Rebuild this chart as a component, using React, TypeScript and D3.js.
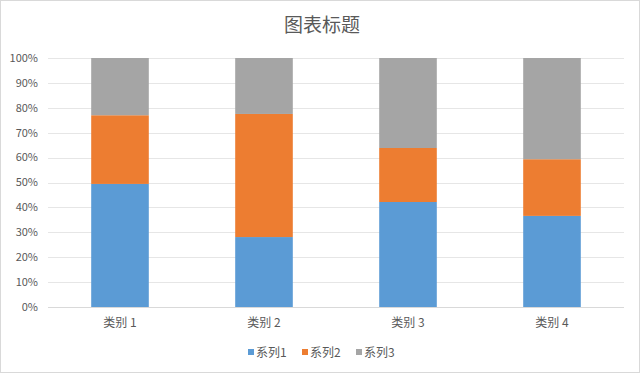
import React, { useEffect, useRef } from 'react';
import * as d3 from 'd3';

const categories = ['类别 1', '类别 2', '类别 3', '类别 4'];
const seriesNames = ['系列1', '系列2', '系列3'];
const series1 = [4.3, 2.5, 3.5, 4.5];
const series2 = [2.4, 4.4, 1.8, 2.8];
const series3 = [2, 2, 3, 5];
const colors = ['#5b9bd5', '#ed7d31', '#a5a5a5'];
const yTicks = [0, 0.1, 0.2, 0.3, 0.4, 0.5, 0.6, 0.7, 0.8, 0.9, 1];

const width = 640;
const height = 373;
const margin = { top: 58, right: 16, bottom: 66, left: 48 };
const font = '"Noto Sans CJK SC", "Noto Sans", sans-serif';

export default function App() {
    const ref = useRef<SVGSVGElement>(null);

    useEffect(() => {
        const svg = d3.select(ref.current);
        svg.selectAll('*').remove();

        svg.append('rect')
            .attr('x', 0.5).attr('y', 0.5)
            .attr('width', width - 1).attr('height', height - 1)
            .attr('fill', '#fff')
            .attr('stroke', '#d9d9d9');

        const table = categories.map((c, i) => ({
            cat: c,
            s0: series1[i],
            s1: series2[i],
            s2: series3[i],
        }));

        const stack = d3.stack<any>()
            .keys(['s0', 's1', 's2'])
            .offset(d3.stackOffsetExpand);
        const layers = stack(table);

        const x = d3.scaleBand()
            .domain(categories)
            .range([margin.left, width - margin.right])
            .paddingInner(0.6)
            .paddingOuter(0.3);

        const y = d3.scaleLinear()
            .domain([0, 1])
            .range([height - margin.bottom, margin.top]);

        // gridlines
        svg.append('g')
            .selectAll('line')
            .data(yTicks)
            .enter().append('line')
            .attr('x1', margin.left)
            .attr('x2', width - margin.right)
            .attr('y1', d => Math.round(y(d)) + 0.5)
            .attr('y2', d => Math.round(y(d)) + 0.5)
            .attr('stroke', d => d === 0 ? '#d9d9d9' : '#e6e6e6')
            .attr('stroke-width', 1);

        // y labels
        svg.append('g')
            .selectAll('text')
            .data(yTicks)
            .enter().append('text')
            .attr('x', margin.left - 10)
            .attr('y', d => y(d))
            .attr('dy', '0.35em')
            .attr('text-anchor', 'end')
            .attr('font-family', font)
            .attr('font-size', 11)
            .attr('fill', '#595959')
            .text(d => d3.format('.0%')(d));

        // bars
        svg.append('g')
            .selectAll('g')
            .data(layers)
            .enter().append('g')
            .attr('fill', (d, i) => colors[i])
            .selectAll('rect')
            .data(d => d)
            .enter().append('rect')
            .attr('x', d => x(d.data.cat)!)
            .attr('width', x.bandwidth())
            .attr('y', d => y(d[1]))
            .attr('height', d => y(d[0]) - y(d[1]));

        // x labels
        svg.append('g')
            .selectAll('text')
            .data(categories)
            .enter().append('text')
            .attr('x', d => x(d)! + x.bandwidth() / 2)
            .attr('y', height - margin.bottom + 20)
            .attr('text-anchor', 'middle')
            .attr('font-family', font)
            .attr('font-size', 12)
            .attr('fill', '#595959')
            .text(d => d);

        // title
        svg.append('text')
            .attr('x', width / 2 + 2)
            .attr('y', 32)
            .attr('text-anchor', 'middle')
            .attr('font-family', font)
            .attr('font-size', 19)
            .attr('fill', '#595959')
            .text('图表标题');

        // legend
        const legend = svg.append('g')
            .selectAll('g')
            .data(seriesNames)
            .enter().append('g')
            .attr('transform', (d, i) => `translate(${248 + i * 54},353)`);
        legend.append('rect')
            .attr('x', 0).attr('y', -4)
            .attr('width', 6).attr('height', 6)
            .attr('fill', (d, i) => colors[i]);
        legend.append('text')
            .attr('x', 8)
            .attr('y', 0)
            .attr('dy', '0.35em')
            .attr('font-family', font)
            .attr('font-size', 12)
            .attr('fill', '#595959')
            .text(d => d);
    }, []);

    return <svg ref={ref} width={width} height={height} style={{ position: 'absolute', left: 0, top: 0 }}></svg>;
}
